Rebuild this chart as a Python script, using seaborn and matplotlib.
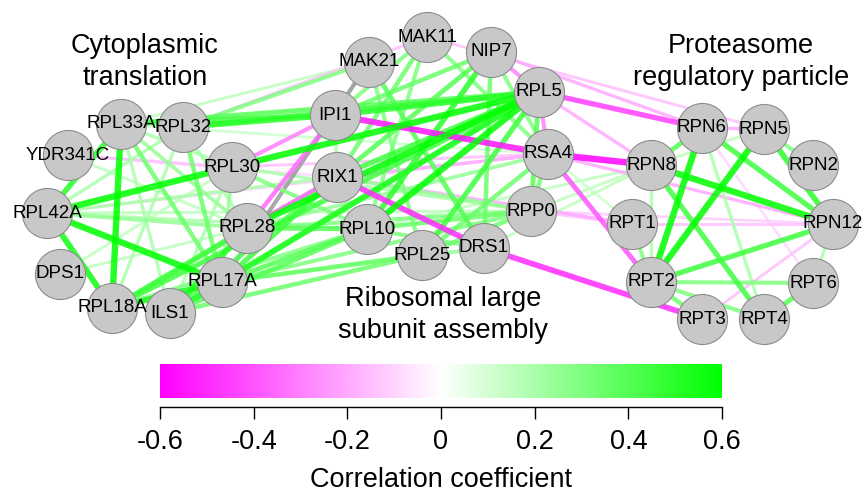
import numpy as np
import matplotlib
matplotlib.use('Agg')
import matplotlib.pyplot as plt
from matplotlib.colors import LinearSegmentedColormap, Normalize
import pandas as pd
import seaborn as sns

# Node layout (pixel space of the original figure)
node_names = ['RPL33A', 'RPL32', 'YDR341C', 'RPL30', 'RPL42A', 'RPL28', 'DPS1', 'RPL17A', 'RPL18A', 'ILS1',
              'MAK11', 'NIP7', 'MAK21', 'RPL5', 'IPI1', 'RSA4', 'RIX1', 'RPP0', 'RPL10', 'DRS1', 'RPL25',
              'RPN6', 'RPN5', 'RPN2', 'RPN8', 'RPN12', 'RPT1', 'RPT6', 'RPT2', 'RPT3', 'RPT4']
node_x = [121, 183, 68, 232, 47, 247, 60, 222, 112, 170,
          427, 491, 369, 539, 335, 548, 337, 531, 367, 484, 422,
          702, 764, 813, 651, 833, 632, 813, 651, 702, 764]
node_y = [124, 127, 155, 167, 213, 228, 274, 282, 308, 313,
          37, 52, 62, 92, 115, 154, 177, 211, 229, 248, 255,
          128, 129, 165, 165, 224, 224, 283, 282, 319, 319]

# Edges (source, target, correlation); nan = no value, drawn gray
edges_translation = [
    ('RPL42A', 'RPL30', 0.6), ('RPL42A', 'RPL17A', 0.6), ('RPL42A', 'RPL18A', 0.55),
    ('RPL33A', 'RPL18A', 0.6), ('RPL42A', 'RPL33A', 0.5), ('RPL33A', 'RPL17A', 0.35),
    ('RPL32', 'RPL17A', 0.35), ('RPL18A', 'RPL17A', 0.55), ('RPL18A', 'RPL28', 0.45),
    ('ILS1', 'RPL28', 0.5), ('RPL42A', 'RPL28', 0.25), ('RPL42A', 'RPL32', 0.2),
    ('YDR341C', 'RPL28', 0.15), ('YDR341C', 'RPL30', -0.15), ('DPS1', 'RPL28', 0.15),
    ('DPS1', 'RPL30', 0.15), ('RPL33A', 'RPL28', 0.25), ('RPL32', 'RPL28', 0.2),
    ('RPL33A', 'ILS1', 0.2), ('RPL32', 'RPL18A', 0.2), ('RPL30', 'RPL17A', 0.25),
    ('RPL30', 'ILS1', 0.2), ('RPL33A', 'RPL30', 0.2), ('ILS1', 'RPL17A', 0.4),
]
edges_cross_left = [
    ('RPL30', 'RPL5', 0.6), ('RPL28', 'RPL5', 0.6), ('RPL28', 'RIX1', -0.35),
    ('RPL28', 'IPI1', -0.35), ('RPL30', 'IPI1', -0.3), ('RPL32', 'IPI1', 0.5),
    ('RPL33A', 'IPI1', 0.45), ('RPL32', 'RPL5', 0.45), ('RPL33A', 'RPL5', 0.4),
    ('RPL32', 'MAK21', 0.3), ('RPL32', 'MAK11', -0.15), ('RPL33A', 'MAK21', 0.15),
    ('RPL17A', 'RPL5', 0.5), ('RPL17A', 'RIX1', 0.45), ('RPL17A', 'RPL10', 0.4),
    ('RPL17A', 'RPL25', 0.35), ('RPL17A', 'RPP0', 0.3), ('RPL17A', 'DRS1', 0.25),
    ('ILS1', 'RPL5', 0.5), ('ILS1', 'RPL10', 0.4), ('ILS1', 'RPL25', 0.35),
    ('ILS1', 'RIX1', 0.4), ('RPL18A', 'RPL5', 0.45), ('RPL18A', 'RIX1', 0.35),
    ('RPL18A', 'RPL10', 0.3), ('RPL28', 'RPL10', 0.4), ('RPL28', 'RPP0', 0.3),
    ('RPL28', 'RSA4', 0.25), ('RPL42A', 'RIX1', 0.2), ('RPL42A', 'RPL10', 0.2),
    ('RPL42A', 'RPP0', 0.15), ('RPL17A', 'MAK21', np.nan), ('RPL30', 'RPL10', 0.3),
    ('RPL30', 'RPP0', 0.2), ('RPL30', 'RSA4', -0.15), ('RPL42A', 'RSA4', -0.12),
    ('YDR341C', 'RIX1', -0.1), ('RPL33A', 'RSA4', 0.12),
]
edges_assembly = [
    ('RPL5', 'IPI1', 0.5), ('RPL5', 'RPL10', 0.6), ('RPL5', 'RIX1', 0.45),
    ('RPL5', 'RPL25', 0.45), ('RPL5', 'RSA4', -0.3), ('RPL5', 'RPP0', 0.4),
    ('RPL5', 'NIP7', -0.3), ('NIP7', 'RPL10', 0.5), ('NIP7', 'RIX1', 0.4),
    ('NIP7', 'IPI1', 0.35), ('MAK11', 'RIX1', 0.35), ('MAK11', 'RPL10', 0.3),
    ('MAK11', 'IPI1', 0.3), ('MAK21', 'DRS1', 0.4), ('MAK21', 'RPL25', 0.3),
    ('NIP7', 'RSA4', 0.3), ('NIP7', 'DRS1', 0.35), ('MAK11', 'RSA4', 0.3),
    ('IPI1', 'RSA4', -0.55), ('RIX1', 'DRS1', -0.5), ('RIX1', 'RPP0', 0.25),
    ('RSA4', 'RPP0', 0.35), ('RPL10', 'RPP0', 0.35), ('RPL10', 'DRS1', 0.3),
    ('RPL25', 'RPP0', 0.35), ('RPL25', 'RSA4', 0.35), ('IPI1', 'RIX1', 0.2),
    ('MAK21', 'IPI1', 0.2), ('RIX1', 'RSA4', -0.2),
]
edges_cross_right = [
    ('RPL5', 'RPN6', -0.45), ('NIP7', 'RPN6', -0.2), ('MAK11', 'RPN5', -0.15),
    ('RSA4', 'RPN8', -0.6), ('RSA4', 'RPT2', -0.4), ('DRS1', 'RPT3', -0.5),
    ('RSA4', 'RPN12', -0.2), ('RPP0', 'RPN8', 0.15), ('RPP0', 'RPT1', -0.15),
    ('RIX1', 'RPT1', -0.2), ('RPL10', 'RPN8', 0.15), ('RPP0', 'RPN12', -0.12),
    ('RSA4', 'RPT1', 0.12), ('DRS1', 'RPN8', 0.15), ('RPL5', 'RPN8', -0.2),
]
edges_proteasome = [
    ('RPN8', 'RPN12', 0.6), ('RPT2', 'RPN6', 0.6), ('RPT2', 'RPN5', 0.6),
    ('RPT2', 'RPN12', 0.45), ('RPN6', 'RPN12', 0.45), ('RPN5', 'RPN12', 0.5),
    ('RPN6', 'RPT4', 0.2), ('RPN8', 'RPT4', 0.45), ('RPT2', 'RPT6', 0.3),
    ('RPT2', 'RPT4', 0.3), ('RPT4', 'RPT6', 0.4), ('RPT2', 'RPT3', 0.35),
    ('RPN8', 'RPN6', 0.4), ('RPN8', 'RPT2', 0.2), ('RPN12', 'RPT6', 0.2),
    ('RPN6', 'RPN5', -0.2), ('RPN5', 'RPN8', 0.15), ('RPT1', 'RPT2', 0.3),
    ('RPN6', 'RPT6', -0.1), ('RPT3', 'RPN12', -0.15), ('RPT1', 'RPN12', -0.15),
    ('RPN5', 'RPN2', 0.3),
]

# Module labels
module_labels = ['Cytoplasmic\ntranslation', 'Proteasome\nregulatory particle', 'Ribosomal large\nsubunit assembly']
module_x = [145, 741, 443]
module_y = [62, 62, 315]

cbar_ticks = [-0.6, -0.4, -0.2, 0, 0.2, 0.4, 0.6]
cbar_ticklabels = ['-0.6', '-0.4', '-0.2', '0', '0.2', '0.4', '0.6']

sns.set_theme(style='white')
plt.rcParams['font.family'] = ['Liberation Sans', 'DejaVu Sans']
plt.rcParams['text.color'] = 'black'
plt.rcParams['axes.labelcolor'] = 'black'
plt.rcParams['xtick.color'] = 'black'

cmap = LinearSegmentedColormap.from_list('mg', ['#FF00FF', '#FFFFFF', '#00FF00'])
norm = Normalize(-0.6, 0.6)

nodes = pd.DataFrame({'name': node_names, 'x': node_x, 'y': node_y})
pos = nodes.set_index('name')
edges = pd.DataFrame(edges_translation + edges_cross_left + edges_assembly + edges_cross_right + edges_proteasome,
                     columns=['src', 'dst', 'r'])
edges['strength'] = edges['r'].abs().fillna(0.3)
edges = edges.sort_values('strength')

fig = plt.figure(figsize=(8.64, 4.92), dpi=100)
ax = fig.add_axes([0, 0, 1, 1])

for _, e in edges.iterrows():
    p, q = pos.loc[e['src']], pos.loc[e['dst']]
    color = '#9a9a9a' if np.isnan(e['r']) else cmap(norm(e['r']))
    ax.plot([p['x'], q['x']], [p['y'], q['y']], color=color,
            lw=1.3 + 5.5 * e['strength'], alpha=0.85, solid_capstyle='butt', zorder=1)

sns.scatterplot(data=nodes, x='x', y='y', s=1300, color='#C8C8C8', edgecolor='#8c8c8c',
                linewidth=0.8, ax=ax, zorder=3, legend=False)
ax.set_xlim(0, 864)
ax.set_ylim(492, 0)
ax.axis('off')

for _, n in nodes.iterrows():
    ax.text(n['x'], n['y'], n['name'], ha='center', va='center', fontsize=13.5, color='black', zorder=4)

for lab, x, y in zip(module_labels, module_x, module_y):
    ax.text(x, y, lab, ha='center', va='center', fontsize=19.5, linespacing=1.3, color='black', zorder=4)

# Colour bar
cax = fig.add_axes([160 / 864, 1 - 398 / 492, 562 / 864, 34 / 492])
grad = np.linspace(-0.6, 0.6, 512).reshape(1, -1)
cax.imshow(grad, cmap=cmap, norm=norm, aspect='auto', extent=[-0.6, 0.6, 0, 1])
cax.set_yticks([])
for s in ['left', 'right', 'top']:
    cax.spines[s].set_visible(False)
cax.spines['bottom'].set_position(('outward', 6.5))
cax.spines['bottom'].set_color('black')
cax.spines['bottom'].set_linewidth(1.0)
cax.set_xticks(cbar_ticks)
cax.set_xticklabels(cbar_ticklabels)
cax.tick_params(axis='x', direction='out', length=8.5, width=1.0, color='black',
                labelsize=19.5, pad=7, bottom=True)
cax.set_xlabel('Correlation coefficient', fontsize=19.5, labelpad=9)

fig.savefig('out.png', dpi=100)
